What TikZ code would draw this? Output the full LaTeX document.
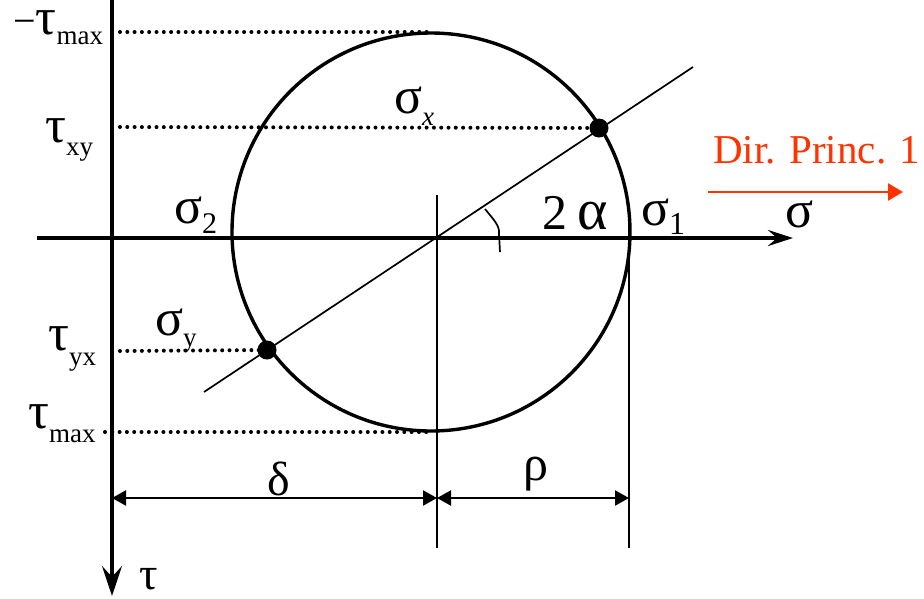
\documentclass[tikz,border=0pt]{standalone}
\usepackage{fontspec}
\setmainfont{Liberation Serif}
\usetikzlibrary{arrows.meta}
\definecolor{dirred}{HTML}{FF3300}
\newcommand{\lsub}[3][11pt]{\raisebox{-#1}{\fontsize{#2}{#2}\selectfont #3}}
\newcommand{\gk}[2]{{\fontsize{#1}{#1}\selectfont #2}}
\begin{document}
\begin{tikzpicture}[x=1pt,y=-1pt,
  axisline/.style={line width=3.8pt},
  thinline/.style={line width=1.7pt},
  dotline/.style={line width=4pt, line cap=round, dash pattern=on 0pt off 7.3pt},
  dimarrow/.style={line width=2.2pt, {Triangle[length=14pt,width=15pt]}-{Triangle[length=14pt,width=15pt]}},
  lbl/.style={inner sep=0pt, anchor=base west, font=\fontsize{40}{40}\selectfont},
  pnt/.style={circle, fill, inner sep=0pt, minimum size=19pt}]
\useasboundingbox (0,0) rectangle (924,598);
% coordinates
\coordinate (ttop) at (112,0);
\coordinate (tbot) at (112,596);
\coordinate (sleft) at (37,238);
\coordinate (sright) at (793,238);
\coordinate (C) at (431,232);
\coordinate (La) at (204,392);
\coordinate (Lb) at (693,67);
\coordinate (vcTop) at (437,195);
\coordinate (vcBot) at (437,548);
\coordinate (vrTop) at (629,205);
\coordinate (vrBot) at (629,548);
\coordinate (dL) at (112,498);
\coordinate (dM) at (437,498);
\coordinate (dR) at (629,498);
\coordinate (d1a) at (120,32);
\coordinate (d1b) at (428,32);
\coordinate (d2a) at (120,127);
\coordinate (d3a) at (120,351);
\coordinate (d4a) at (105,432);
\coordinate (d4b) at (430,432);
\coordinate (redA) at (708,192);
\coordinate (redB) at (903,192);
% axes
\draw[axisline, -{Stealth[length=30pt,width=20pt,inset=11pt]}] (ttop) -- (tbot);
\draw[axisline, -{Stealth[length=25pt,width=16pt,inset=9pt]}] (sleft) -- (sright);
% circle
\draw[line width=3.4pt] (C) circle[radius=199];
% diagonal line
\draw[thinline] (La) -- (Lb);
% points
\node[pnt] (Px) at (599,128) {};
\node[pnt] (Py) at (267,350) {};
% dotted lines
\draw[dotline] (d1a) -- (d1b);
\draw[dotline] (d2a) -- (Px.center);
\draw[dotline] (d3a) -- (Py.center);
\draw[dotline] (d4a) -- (d4b);
% vertical lines
\draw[thinline] (vcTop) -- (vcBot);
\draw[thinline] (vrTop) -- (vrBot);
% dimension arrows
\draw[dimarrow] (dL) -- (dM);
\draw[dimarrow] (dM) -- (dR);
% angle mark
\draw[thinline] (485,209) .. controls (494,220) and (500,226) .. (499,234) -- (500,252);
% red arrow
\draw[dirred, line width=2.6pt, -{Triangle[length=15pt,width=17pt]}] (redA) -- (redB);
% labels
\node[lbl] (lmt) at (13,34) {−\gk{52}{τ}\lsub[10pt]{27}{max}};
\node[lbl] (ltxy) at (45,142) {\gk{52}{τ}\lsub[13pt]{27}{xy}};
\node[lbl] (ltyx) at (48,350) {\gk{52}{τ}\lsub[15pt]{27}{yx}};
\node[lbl] (ltm) at (28,428) {\gk{52}{τ}\lsub[14pt]{27}{max}};
\node[lbl] (lsy) at (155,335) {\gk{52}{σ}\lsub[11pt]{27}{y}};
\node[lbl] (lsx) at (394,113) {\gk{52}{σ}\lsub[12pt]{27}{\itshape x}};
\node[lbl] (ls2) at (174,223) {\gk{52}{σ}\lsub[10pt]{30}{2}};
\node[lbl] (ls1) at (641,225) {\gk{52}{σ}\lsub[9pt]{32}{1}};
\node[lbl] (lal) at (542,229) {\gk{50}{2}\hspace{10pt}\gk{58}{α}};
\node[lbl] (ls) at (785,227) {\gk{52}{σ}};
\node[lbl] (ld) at (267,495) {\gk{48}{δ}};
\node[lbl] (lr) at (523,480) {\gk{50}{ρ}};
\node[lbl] (lt) at (139,589) {\gk{46}{τ}};
\node[lbl, text=dirred, font=\fontsize{41}{41}\selectfont] (lred) at (713,163) {Dir. Princ. 1};
\end{tikzpicture}
\end{document}
